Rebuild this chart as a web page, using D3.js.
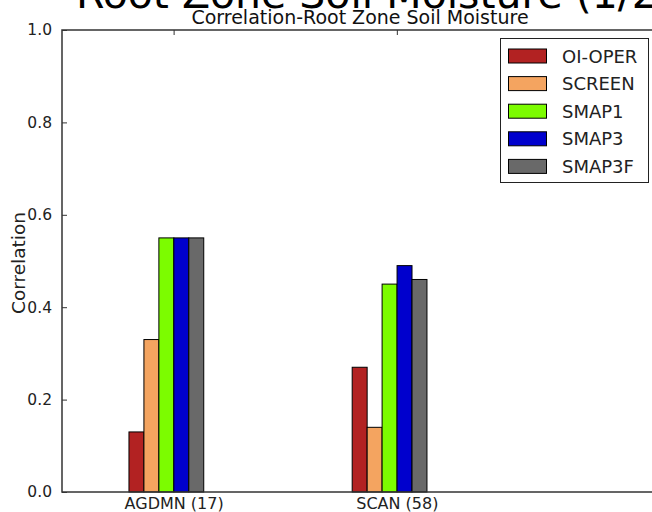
<!DOCTYPE html>
<html>
<head>
<meta charset="utf-8">
<script src="https://cdn.jsdelivr.net/npm/d3@7/dist/d3.min.js"></script>
<style>
  html, body { margin: 0; padding: 0; background: #fff; }
  svg { display: block; font-family: "DejaVu Sans", sans-serif; }
</style>
</head>
<body>
<svg id="chart" width="652" height="512"></svg>
<script>
// Networks (with station counts) along the x axis
const categories = ["AGDMN (17)", "SCAN (58)"];

// Experiments, one bar per network
const seriesNames = ["OI-OPER", "SCREEN", "SMAP1", "SMAP3", "SMAP3F"];
const seriesColors = ["#b22222", "#f4a460", "#7cfc00", "#0000cd", "#696969"];

// Correlation of root zone soil moisture, per experiment
const oiOper = [0.13, 0.27];
const screen = [0.33, 0.14];
const smap1  = [0.55, 0.45];
const smap3  = [0.55, 0.49];
const smap3f = [0.55, 0.46];
const seriesValues = [oiOper, screen, smap1, smap3, smap3f];

const yTicks = [0.0, 0.2, 0.4, 0.6, 0.8, 1.0];

const svg = d3.select("#chart");
const plot = { left: 62, right: 658, top: 30, bottom: 492 };

const x = d3.scaleLinear().domain([-0.5, 2.17]).range([plot.left, plot.right]);
const y = d3.scaleLinear().domain([0, 1]).range([plot.bottom, plot.top]);

const barWidth = 0.067;     // in group units
const groupOffset = -0.2;   // first bar starts left of the tick

// Large heading, clipped by the top of the page
svg.append("text")
  .attr("x", 76).attr("y", 8)
  .attr("font-size", 41)
  .attr("fill", "#000")
  .text("Root Zone Soil Moisture (1/2)");

// Axes title
svg.append("text")
  .attr("x", (plot.left + plot.right) / 2).attr("y", 24)
  .attr("text-anchor", "middle")
  .attr("font-size", 19)
  .attr("fill", "#111")
  .text("Correlation-Root Zone Soil Moisture");

// Bars
const bars = [];
seriesValues.forEach((vals, s) => {
  vals.forEach((v, g) => bars.push({ s, g, v }));
});
svg.append("g").selectAll("rect").data(bars).join("rect")
  .attr("x", d => x(d.g + groupOffset + d.s * barWidth))
  .attr("width", d => x(barWidth) - x(0))
  .attr("y", d => y(d.v))
  .attr("height", d => y(0) - y(d.v))
  .attr("fill", d => seriesColors[d.s])
  .attr("stroke", "#000")
  .attr("stroke-width", 1);

// Frame (spines)
svg.append("rect")
  .attr("x", plot.left).attr("y", plot.top)
  .attr("width", plot.right - plot.left).attr("height", plot.bottom - plot.top)
  .attr("fill", "none").attr("stroke", "#333").attr("stroke-width", 1.5);

// Y axis: inward ticks
const yAxis = d3.axisLeft(y).tickValues(yTicks).tickFormat(d3.format(".1f"))
  .tickSizeInner(-5).tickSizeOuter(0).tickPadding(10);
const gy = svg.append("g").attr("transform", `translate(${plot.left},0)`).call(yAxis);
gy.select(".domain").remove();
gy.selectAll("line").attr("stroke", "#333");
gy.selectAll("text").attr("font-size", 15.5).attr("fill", "#222")
  .attr("font-family", "DejaVu Sans");

// X axis: labels below, inward ticks on top spine
const xAxis = d3.axisBottom(x).tickValues(d3.range(categories.length))
  .tickFormat(i => categories[i]).tickSizeInner(-5).tickSizeOuter(0).tickPadding(6);
const gx = svg.append("g").attr("transform", `translate(0,${plot.bottom})`).call(xAxis);
gx.select(".domain").remove();
gx.selectAll("line").remove();
gx.selectAll("text").attr("font-size", 16).attr("fill", "#222")
  .attr("font-family", "DejaVu Sans");

const xTop = d3.axisTop(x).tickValues(d3.range(categories.length))
  .tickFormat("").tickSizeInner(-5).tickSizeOuter(0);
const gxt = svg.append("g").attr("transform", `translate(0,${plot.top})`).call(xTop);
gxt.select(".domain").remove();
gxt.selectAll("line").attr("stroke", "#333");

// Y axis label
svg.append("text")
  .attr("transform", `translate(25,${(plot.top + plot.bottom) / 2 + 2}) rotate(-90)`)
  .attr("text-anchor", "middle")
  .attr("font-size", 18.5)
  .attr("fill", "#222")
  .text("Correlation");

// Legend
const legend = svg.append("g");
legend.append("rect")
  .attr("x", 500.5).attr("y", 38.5).attr("width", 148).attr("height", 144)
  .attr("fill", "#fff").attr("stroke", "#222").attr("stroke-width", 1);
const items = legend.selectAll("g.item").data(seriesNames).join("g")
  .attr("class", "item")
  .attr("transform", (d, i) => `translate(0,${56 + i * 27.6})`);
items.append("rect")
  .attr("x", 508.5).attr("y", -7).attr("width", 38).attr("height", 14)
  .attr("fill", (d, i) => seriesColors[i]).attr("stroke", "#000").attr("stroke-width", 1);
items.append("text")
  .attr("x", 562).attr("y", 6.5)
  .attr("font-size", 18)
  .attr("fill", "#222")
  .text(d => d);
</script>
</body>
</html>
